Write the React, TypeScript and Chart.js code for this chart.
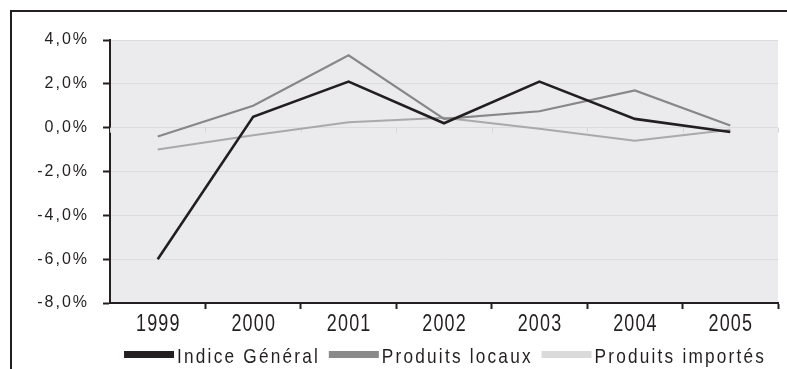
import { useEffect, useRef } from "react";
import { Chart, registerables } from "chart.js";

Chart.register(...registerables);

// Variation annuelle des prix (en %)
const years = ["1999", "2000", "2001", "2002", "2003", "2004", "2005"];
const indiceGeneral = [-6.0, 0.5, 2.1, 0.2, 2.1, 0.4, -0.2];
const produitsLocaux = [-0.4, 1.0, 3.3, 0.4, 0.75, 1.7, 0.1];
const produitsImportes = [-1.0, -0.35, 0.25, 0.45, -0.05, -0.6, -0.1];
const seriesNames = ["Indice Général", "Produits locaux", "Produits importés"];

const yMin = -8;
const yMax = 4;
const yStep = 2;

const INK = "#231f20";
const lineColors = [INK, "#878787", "#a9a9a9"];
const swatchColors = [INK, "#8a8a8a", "#dadada"];
const regularFont = "'Liberation Sans', Arial, sans-serif";

const fmtPct = (v: number) => `${v.toFixed(1).replace(".", ",")}%`;

// draws text horizontally condensed (narrow face look) with letter spacing
function drawNarrowText(
  ctx: CanvasRenderingContext2D,
  text: string,
  x: number,
  y: number,
  size: number,
  squeeze: number,
  spacing: number,
  align: "left" | "center"
) {
  ctx.save();
  (ctx as any).letterSpacing = `${spacing}px`;
  ctx.font = `${size}px ${regularFont}`;
  ctx.textBaseline = "alphabetic";
  ctx.textAlign = "left";
  const w = (ctx.measureText(text).width - spacing) * squeeze;
  const left = align === "center" ? x - w / 2 : x;
  ctx.translate(left, y);
  ctx.scale(squeeze, 1);
  ctx.fillText(text, 0, 0);
  ctx.restore();
  return w;
}

function narrowWidth(ctx: CanvasRenderingContext2D, text: string, size: number, squeeze: number, spacing: number) {
  ctx.save();
  (ctx as any).letterSpacing = `${spacing}px`;
  ctx.font = `${size}px ${regularFont}`;
  const w = (ctx.measureText(text).width - spacing) * squeeze;
  ctx.restore();
  return w;
}

const decorPlugin = {
  id: "decor",
  beforeUpdate(chart: any) {
    chart.ctx.letterSpacing = "2px";
  },
  beforeDraw(chart: any) {
    const { ctx, chartArea, width, height } = chart;
    ctx.save();
    // frame (top and left edges)
    ctx.strokeStyle = INK;
    ctx.lineWidth = 2;
    ctx.beginPath();
    ctx.moveTo(11, height);
    ctx.lineTo(11, 11);
    ctx.lineTo(width, 11);
    ctx.stroke();
    // plot background
    ctx.fillStyle = "#ebebed";
    ctx.fillRect(chartArea.left, chartArea.top, chartArea.right - chartArea.left, chartArea.bottom - chartArea.top);
    ctx.restore();
    ctx.letterSpacing = "2px";
  },
  beforeDatasetsDraw(chart: any) {
    // small category marks on the zero line
    const { ctx, chartArea } = chart;
    const x = chart.scales.x;
    const y0 = chart.scales.y.getPixelForValue(0);
    const n = years.length;
    ctx.save();
    ctx.strokeStyle = "#d6d6d8";
    ctx.lineWidth = 1;
    ctx.beginPath();
    for (let i = 0; i <= n; i++) {
      let px: number;
      if (i === 0) px = chartArea.left;
      else if (i === n) px = chartArea.right;
      else px = (x.getPixelForValue(i - 1) + x.getPixelForValue(i)) / 2;
      ctx.moveTo(Math.round(px) + 0.5, y0);
      ctx.lineTo(Math.round(px) + 0.5, y0 + 5);
    }
    ctx.stroke();
    ctx.restore();
  },
  afterDraw(chart: any) {
    const { ctx, chartArea } = chart;
    ctx.save();
    ctx.fillStyle = INK;
    // category labels
    const xs = chart.scales.x;
    const labels: string[] = xs.getLabels();
    labels.forEach((lab, i) => {
      drawNarrowText(ctx, lab, xs.getPixelForValue(i), 331, 23, 0.78, 1.5, "center");
    });

    // legend
    const size = 21;
    const squeeze = 0.82;
    const spacing = 2.7;
    const boxW = 50;
    const boxH = 7;
    const textGap = 3;
    const itemGap = 11;
    const widths = seriesNames.map((s) => narrowWidth(ctx, s, size, squeeze, spacing));
    const total = widths.reduce((a, w) => a + boxW + textGap + w, 0) + itemGap * (seriesNames.length - 1);
    let cx = (chartArea.left + chartArea.right) / 2 - total / 2;
    const baseY = 363;
    seriesNames.forEach((s, i) => {
      ctx.fillStyle = swatchColors[i];
      ctx.fillRect(cx, baseY - 12, boxW, boxH);
      ctx.fillStyle = INK;
      drawNarrowText(ctx, s, cx + boxW + textGap, baseY, size, squeeze, spacing, "left");
      cx += boxW + textGap + widths[i] + itemGap;
    });
    ctx.restore();
  },
};

export default function App() {
  const canvasRef = useRef<HTMLCanvasElement | null>(null);

  useEffect(() => {
    const canvas = canvasRef.current;
    if (!canvas) return;
    const series = [indiceGeneral, produitsLocaux, produitsImportes];
    const widths = [2.6, 2.2, 2.0];
    const chart = new Chart(canvas, {
      type: "line",
      data: {
        labels: years,
        datasets: series.map((d, i) => ({
          label: seriesNames[i],
          data: d,
          borderColor: lineColors[i],
          backgroundColor: lineColors[i],
          borderWidth: widths[i],
          pointRadius: 0,
          tension: 0,
          fill: false,
        })),
      },
      options: {
        animation: false,
        responsive: true,
        maintainAspectRatio: false,
        devicePixelRatio: 1,
        layout: { padding: { top: 40, left: 0, right: 9, bottom: 30 } },
        plugins: {
          legend: { display: false },
          tooltip: { enabled: false },
        },
        scales: {
          x: {
            type: "category",
            offset: true,
            grid: {
              offset: true,
              drawOnChartArea: false,
              drawTicks: true,
              tickLength: 6,
              tickColor: (c: any) => (c.index === 0 ? "rgba(0,0,0,0)" : INK),
              tickWidth: 2,
            },
            border: { color: INK, width: 2 },
            ticks: { display: false },
            afterFit(scale: any) {
              scale.height = 36;
            },
          },
          y: {
            min: yMin,
            max: yMax,
            grid: {
              color: "#dcdcde",
              lineWidth: 1,
              drawTicks: true,
              tickLength: 7,
              tickColor: INK,
              tickWidth: 2,
            },
            border: { color: INK, width: 2 },
            ticks: {
              stepSize: yStep,
              color: INK,
              padding: 14,
              font: { family: regularFont, size: 16 },
              callback: (v: any) => fmtPct(Number(v)),
            },
            afterFit(scale: any) {
              scale.width = 110;
            },
          },
        },
      },
      plugins: [decorPlugin],
    });
    return () => chart.destroy();
  }, []);

  return (
    <div style={{ position: "absolute", left: 0, top: 0, width: 787, height: 369, background: "#fff" }}>
      <canvas ref={canvasRef} />
    </div>
  );
}
